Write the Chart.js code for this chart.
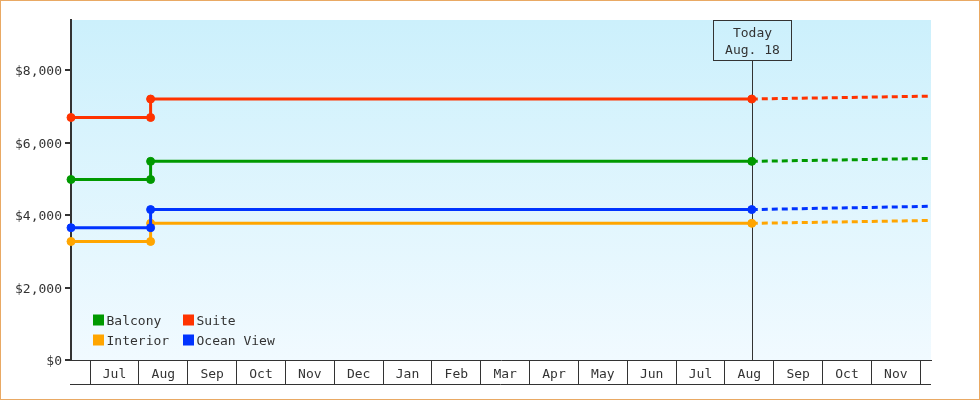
<!DOCTYPE html>
<html>
<head>
<meta charset="utf-8">
<script src="https://cdn.jsdelivr.net/npm/chart.js@4.4.1/dist/chart.umd.min.js"></script>
<style>
  html, body { margin: 0; padding: 0; background: #fff; }
  #wrap { position: relative; width: 980px; height: 400px; }
  #chart { display: block; outline: 1px solid #e9a964; outline-offset: -1px; }
</style>
</head>
<body>
<div id="wrap"><canvas id="chart" width="980" height="400"></canvas></div>
<script>
// month strip under the chart, x = months since the first Jul 1
const monthLabels = ['Jul', 'Aug', 'Sep', 'Oct', 'Nov', 'Dec', 'Jan', 'Feb', 'Mar',
  'Apr', 'May', 'Jun', 'Jul', 'Aug', 'Sep', 'Oct', 'Nov'];
const axisStart = -0.39;   // ~Jun 19
const axisEnd = 17.22;     // ~Dec 7
const priceChange = 1.24;  // ~Aug 8
const today = 13.55;       // Aug 18
const todayLabel = ['Today', 'Aug. 18'];

const categories = ['Balcony', 'Suite', 'Interior', 'Ocean View'];
const oldPrices = [4980, 6690, 3270, 3650];
const newPrices = [5480, 7200, 3770, 4150];
const forecastEnd = [5560, 7280, 3850, 4240];

const yTicks = [0, 2000, 4000, 6000, 8000];
const yMax = 9380;

const colors = ['#009900', '#ff3300', '#ffa500', '#0033ff'];
const ink = '#333333';
const font = { family: '"DejaVu Sans Mono", monospace', size: 13 };

// later categories sit on top, so build them in reverse
const datasets = [];
for (let i = categories.length - 1; i >= 0; i--) {
  datasets.push({
    label: categories[i],
    data: [
      { x: axisStart, y: oldPrices[i] },
      { x: priceChange, y: oldPrices[i] },
      { x: priceChange, y: newPrices[i] },
      { x: today, y: newPrices[i] },
    ],
    borderColor: colors[i],
    backgroundColor: colors[i],
    borderWidth: 3,
    pointRadius: 4,
    pointBorderWidth: 1,
    pointStyle: 'circle',
    clip: 6,
  });
  datasets.push({
    label: categories[i] + ' forecast',
    data: [
      { x: today, y: newPrices[i] },
      { x: axisEnd, y: forecastEnd[i] },
    ],
    borderColor: colors[i],
    borderWidth: 3,
    borderDash: [6, 4],
    pointRadius: 0,
  });
}

// light blue gradient behind the plot
const backdrop = {
  id: 'backdrop',
  beforeDraw(chart) {
    const { ctx, chartArea: a } = chart;
    const g = ctx.createLinearGradient(0, a.top, 0, a.bottom);
    g.addColorStop(0, '#ccf0fc');
    g.addColorStop(1, '#f1faff');
    ctx.save();
    ctx.fillStyle = g;
    ctx.fillRect(a.left, a.top, a.right - a.left, a.bottom - a.top);
    ctx.restore();
  },
};

// vertical "today" marker with its label box
const todayMarker = {
  id: 'todayMarker',
  beforeDatasetsDraw(chart) {
    const { ctx, chartArea: a } = chart;
    const x = Math.round(chart.scales.x.getPixelForValue(today)) + 0.5;
    ctx.save();
    ctx.strokeStyle = ink;
    ctx.lineWidth = 1;
    ctx.beginPath();
    ctx.moveTo(x, a.top + 40);
    ctx.lineTo(x, a.bottom);
    ctx.stroke();
    ctx.restore();
  },
  afterDraw(chart) {
    const { ctx, chartArea: a } = chart;
    const x = Math.round(chart.scales.x.getPixelForValue(today)) + 0.5;
    ctx.save();
    ctx.strokeStyle = ink;
    ctx.lineWidth = 1;
    ctx.strokeRect(x - 39, a.top + 0.5, 78, 40);
    ctx.fillStyle = ink;
    ctx.font = font.size + 'px ' + font.family;
    ctx.textAlign = 'center';
    ctx.textBaseline = 'middle';
    ctx.fillText(todayLabel[0], x, a.top + 13.5);
    ctx.fillText(todayLabel[1], x, a.top + 30.5);
    ctx.restore();
  },
};

// two-column legend in the lower left corner of the plot
const cornerLegend = {
  id: 'cornerLegend',
  afterDatasetsDraw(chart) {
    const { ctx, chartArea: a } = chart;
    const cols = [a.left + 22, a.left + 112];
    const rows = [a.bottom - 40, a.bottom - 20];
    ctx.save();
    ctx.font = font.size + 'px ' + font.family;
    ctx.textBaseline = 'middle';
    categories.forEach((name, i) => {
      const x = cols[i % 2];
      const y = rows[Math.floor(i / 2)];
      ctx.fillStyle = colors[i];
      ctx.fillRect(x, y - 5.5, 11, 11);
      ctx.fillStyle = ink;
      ctx.fillText(name, x + 13.5, y + 1.5);
    });
    ctx.restore();
  },
};

// line under the month strip
const stripBase = {
  id: 'stripBase',
  afterDraw(chart) {
    const { ctx, chartArea: a } = chart;
    ctx.save();
    ctx.strokeStyle = ink;
    ctx.lineWidth = 1;
    ctx.beginPath();
    ctx.moveTo(a.left - 1, a.bottom + 24.5);
    ctx.lineTo(a.right, a.bottom + 24.5);
    ctx.stroke();
    ctx.restore();
  },
};

new Chart(document.getElementById('chart'), {
  type: 'line',
  data: { datasets },
  plugins: [backdrop, todayMarker, cornerLegend, stripBase],
  options: {
    responsive: false,
    animation: false,
    events: [],
    layout: { padding: { top: 20, right: 49, bottom: 0, left: 0 } },
    plugins: { legend: { display: false }, tooltip: { enabled: false } },
    scales: {
      x: {
        type: 'linear',
        min: axisStart,
        max: axisEnd,
        afterFit: s => { s.height = 40; },
        afterBuildTicks: s => {
          const t = [];
          for (let i = 0; i <= monthLabels.length; i++) {
            t.push({ value: i });
            if (i < monthLabels.length) t.push({ value: i + 0.5 });
          }
          s.ticks = t;
        },
        border: { display: true, color: ink, width: 1 },
        grid: {
          drawOnChartArea: false,
          tickLength: 24,
          lineWidth: 1,
          color: c => (c.tick && Number.isInteger(c.tick.value)) ? ink : 'rgba(0,0,0,0)',
        },
        ticks: {
          autoSkip: false,
          maxRotation: 0,
          padding: -17,
          color: ink,
          font,
          callback: v => Number.isInteger(v) ? '' : monthLabels[Math.floor(v)],
        },
      },
      y: {
        min: 0,
        max: yMax,
        afterFit: s => { s.width = 71; },
        afterBuildTicks: s => { s.ticks = yTicks.map(v => ({ value: v })); },
        border: { display: true, color: ink, width: 2 },
        grid: { drawOnChartArea: false, tickLength: 6, lineWidth: 2, color: ink },
        ticks: {
          padding: 3,
          labelOffset: 2,
          color: ink,
          font,
          callback: v => '$' + v.toLocaleString('en-US'),
        },
      },
    },
  },
});
</script>
</body>
</html>
